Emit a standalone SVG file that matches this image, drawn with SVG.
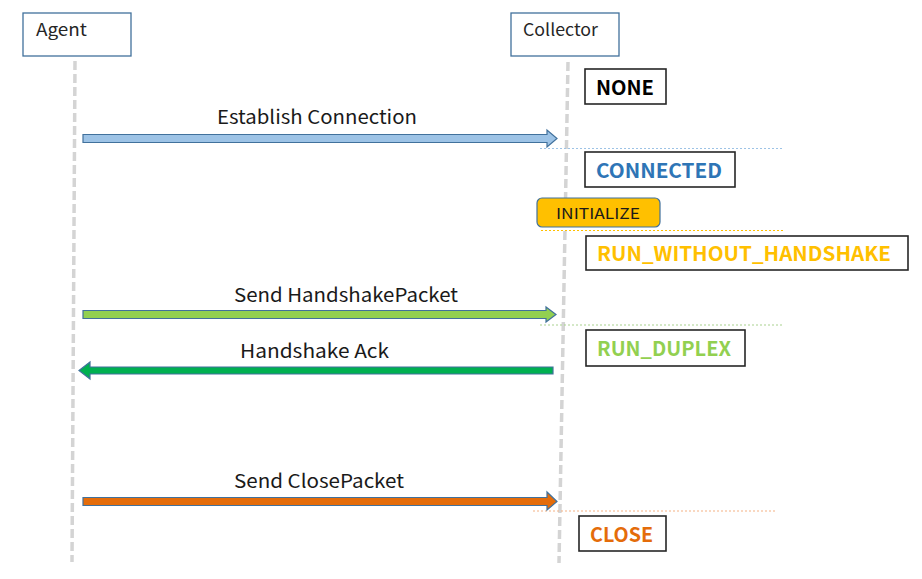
<svg xmlns="http://www.w3.org/2000/svg" width="922" height="579" viewBox="0 0 922 579">
<style>
.head{fill:#fff;stroke:#41719c;stroke-width:1.3}
.htext{font-family:"Noto Sans CJK KR","Noto Sans",sans-serif;font-size:17px;fill:#262626}
.life{stroke:#d4d4d4;stroke-width:3.5;stroke-dasharray:9 4;fill:none}
.arrow{stroke:#41719c;stroke-width:1.2}
.lbl{font-family:"Noto Sans CJK KR","Noto Sans",sans-serif;font-size:19px;fill:#1a1a1a}
.state{fill:#fff;stroke:#262626;stroke-width:1.6}
.stext{font-family:"Noto Sans CJK KR","Noto Sans",sans-serif;font-size:20px;font-weight:bold}
.sep{stroke-width:1;stroke-dasharray:2 2;fill:none}
</style>
<rect width="922" height="579" fill="#fff"/>
<g id="agent">
<rect class="head" x="23" y="13" width="108" height="43"/>
<text class="htext" x="36" y="36" textLength="51" lengthAdjust="spacingAndGlyphs">Agent</text>
</g>
<g id="collector">
<rect class="head" x="511" y="13" width="108" height="43"/>
<text class="htext" x="523" y="36" textLength="75" lengthAdjust="spacingAndGlyphs">Collector</text>
</g>
<g id="lifelines">
<line class="life" x1="75" y1="61" x2="72" y2="562"/>
<line class="life" x1="568" y1="62" x2="559" y2="563"/>
</g>
<g id="separators">
<line class="sep" x1="540" y1="148.5" x2="782" y2="148.5" stroke="#9dc3e6"/>
<line class="sep" x1="541" y1="230.5" x2="783" y2="230.5" stroke="#ffc000"/>
<line class="sep" x1="540" y1="325" x2="782" y2="325" stroke="#a9d18e"/>
<line class="sep" x1="533" y1="511" x2="776" y2="511" stroke="#f4b183"/>
</g>
<g id="connectors">
<polygon class="arrow" fill="#9dc3e6" points="83,134.5 547,134.5 547,130 557,138.5 547,147 547,142.5 83,142.5"/>
<text class="lbl" x="217" y="124" textLength="200" lengthAdjust="spacingAndGlyphs">Establish Connection</text>
<polygon class="arrow" fill="#92d050" points="83,310.5 546,310.5 546,307 556,314.5 546,322 546,318.5 83,318.5"/>
<text class="lbl" x="234" y="302" textLength="224" lengthAdjust="spacingAndGlyphs">Send HandshakePacket</text>
<polygon class="arrow" fill="#00b050" points="553,367 90,367 90,362 79,370.5 90,379 90,374 553,374"/>
<text class="lbl" x="240" y="358" textLength="149" lengthAdjust="spacingAndGlyphs">Handshake Ack</text>
<polygon class="arrow" fill="#e46c0a" points="83,497.5 547,497.5 547,492 557,501.5 547,510 547,505.5 83,505.5"/>
<text class="lbl" x="234" y="488" textLength="170" lengthAdjust="spacingAndGlyphs">Send ClosePacket</text>
</g>
<g id="state-none">
<rect class="state" x="585" y="69" width="81" height="35"/>
<text class="stext" x="596" y="95" fill="#000" textLength="58" lengthAdjust="spacingAndGlyphs">NONE</text>
</g>
<g id="state-connected">
<rect class="state" x="585" y="152" width="150" height="35"/>
<text class="stext" x="596" y="178" fill="#2e75b6" textLength="126" lengthAdjust="spacingAndGlyphs">CONNECTED</text>
</g>
<g id="initialize">
<rect x="537" y="198" width="123" height="29" rx="5" fill="#ffc000" stroke="#41719c" stroke-width="1.2"/>
<text x="556" y="219" font-family="'Noto Sans CJK KR','Noto Sans',sans-serif" font-size="15" fill="#1a1a1a" textLength="84" lengthAdjust="spacingAndGlyphs">INITIALIZE</text>
</g>
<g id="state-run-without-handshake">
<rect class="state" x="586" y="236" width="322" height="34"/>
<text class="stext" x="597" y="261" fill="#ffc000" textLength="294" lengthAdjust="spacingAndGlyphs">RUN_WITHOUT_HANDSHAKE</text>
</g>
<g id="state-run-duplex">
<rect class="state" x="586" y="330" width="159" height="36"/>
<text class="stext" x="597" y="356" fill="#92d050" textLength="134" lengthAdjust="spacingAndGlyphs">RUN_DUPLEX</text>
</g>
<g id="state-close">
<rect class="state" x="579" y="516" width="87" height="35"/>
<text class="stext" x="590" y="542" fill="#e46c0a" textLength="63" lengthAdjust="spacingAndGlyphs">CLOSE</text>
</g>
</svg>
